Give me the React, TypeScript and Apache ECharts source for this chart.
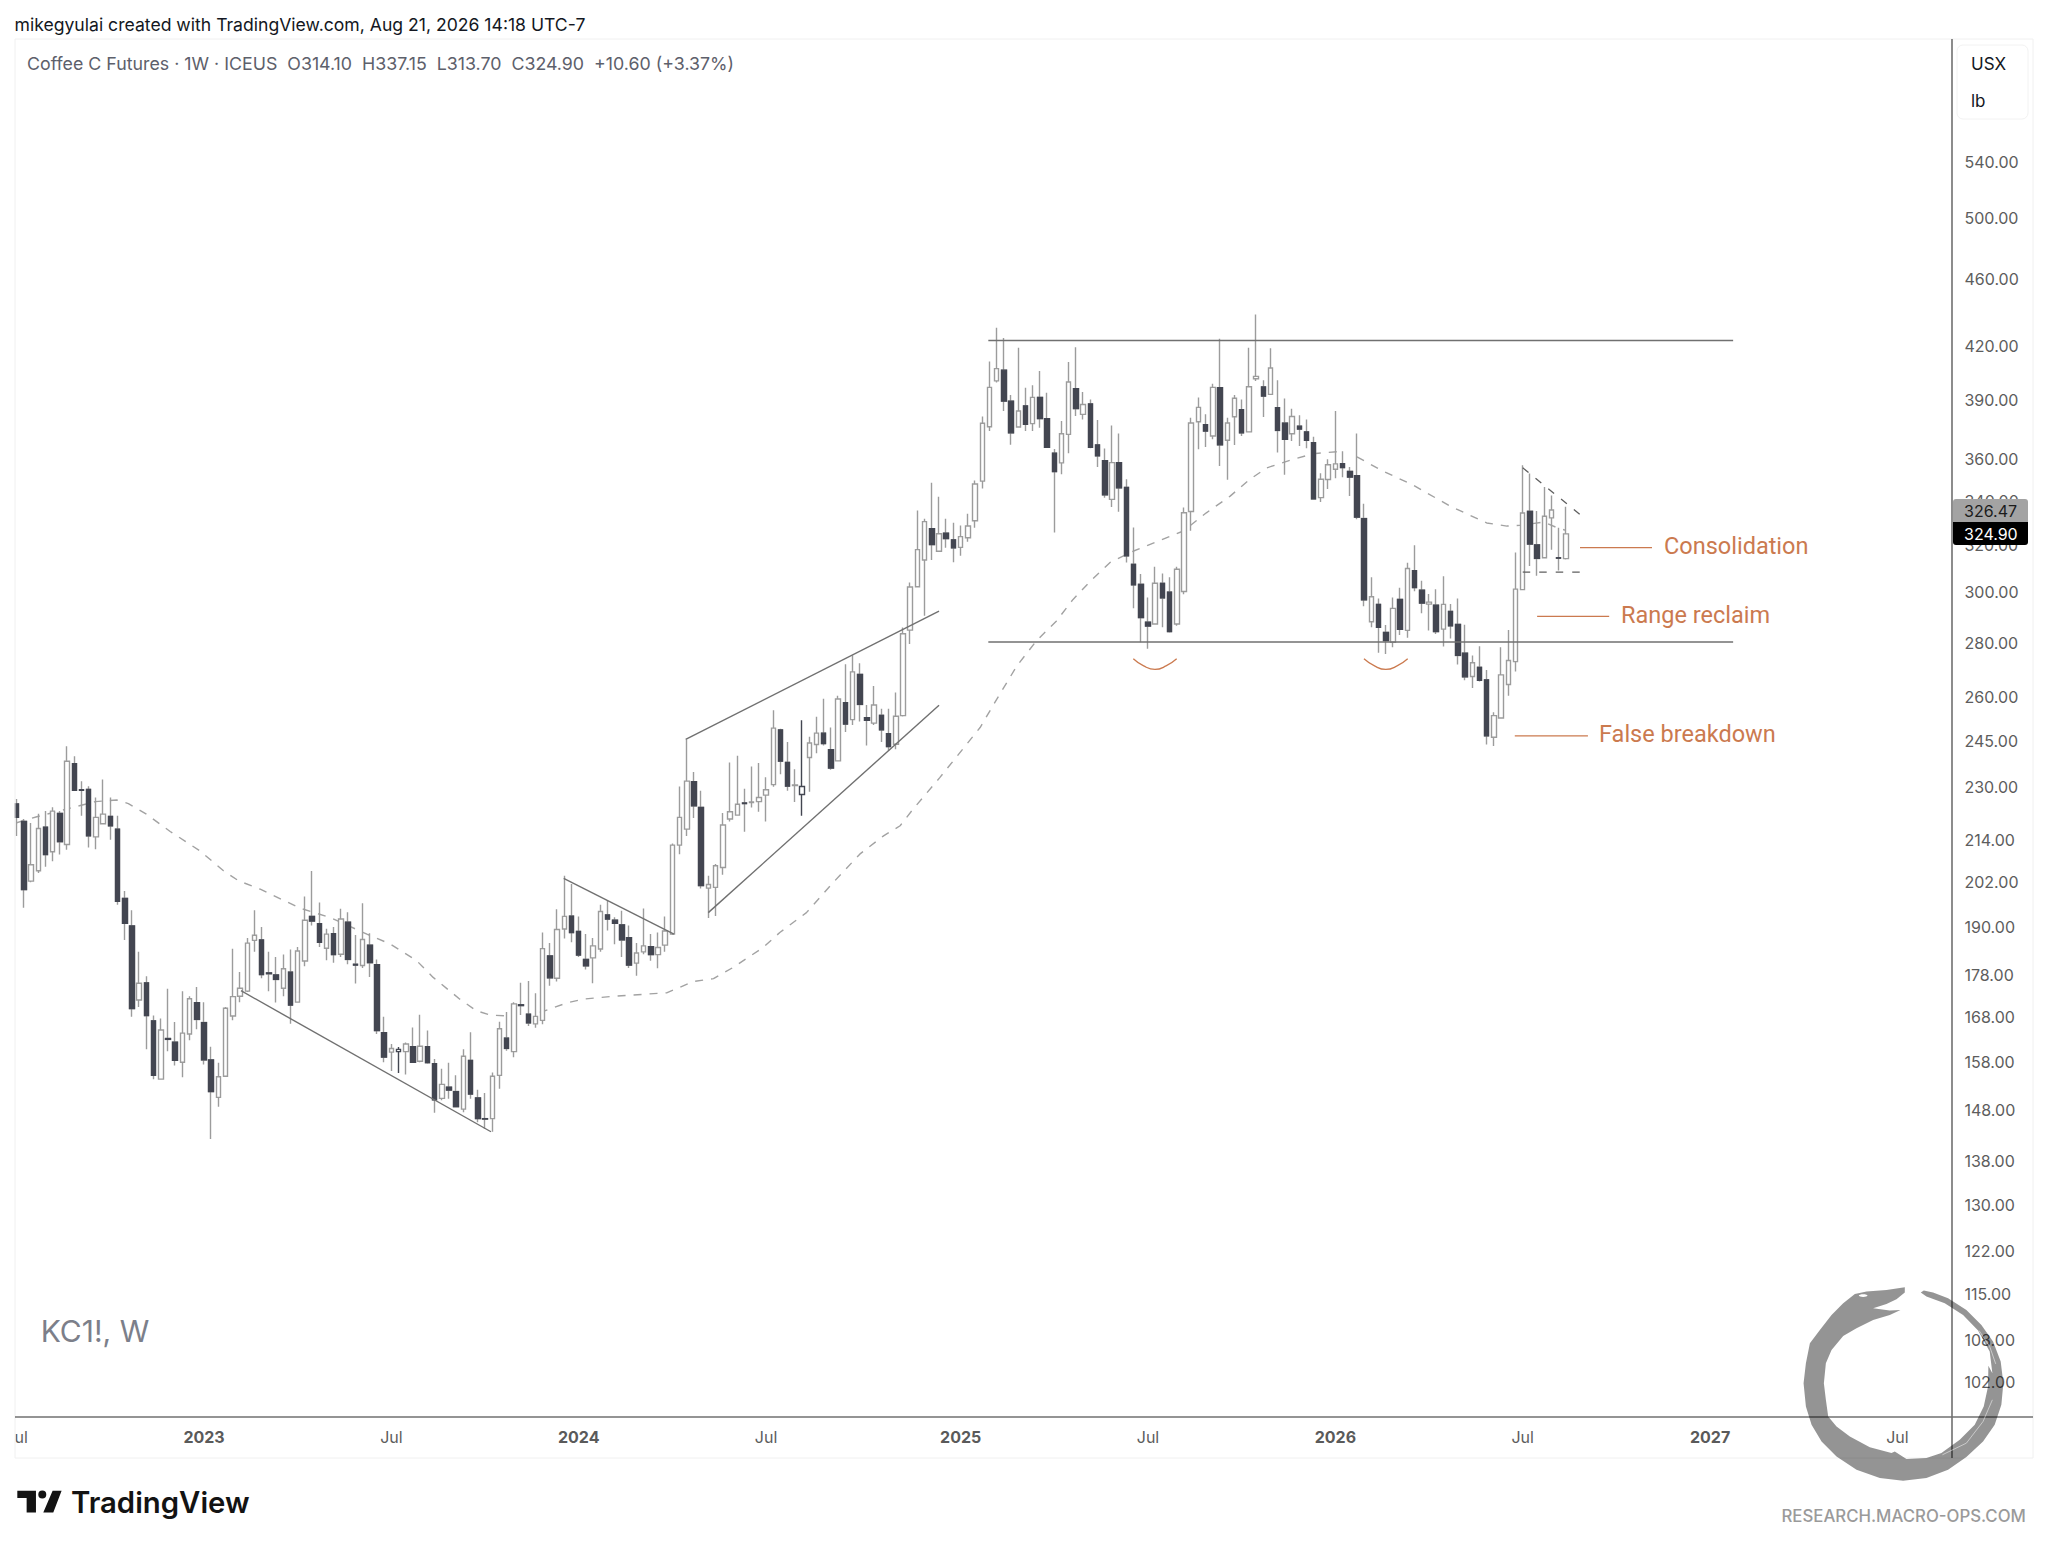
import React, { useEffect, useRef } from "react";
import * as echarts from "echarts";

// Weekly bars as [open, high, low, close]
const candles2022: number[][] = [
[224.7,226.2,215.1,220.6],[219.4,220.1,195.0,199.9],[202.2,218.9,201.9,206.8],[205.1,221.7,204.5,217.3],[217.7,222.5,206.2,209.7],[210.5,223.7,207.8,222.5],[221.8,222.5,209.7,213.4],[212.6,243.1,211.1,238.2],[237.4,239.8,228.7,228.9],[229.1,231.8,221.1,228.9],
[229.2,230.2,211.7,215.1],[214.8,226.7,211.2,220.6],[218.7,232.3,218.5,221.6],[220.9,226.7,214.0,218.1],[217.1,221.1,195.8,196.7],[197.5,199.5,186.6,190.9],[190.2,194.3,168.0,169.9],[171.9,183.6,170.3,175.9],[176.0,177.6,160.7,168.3],[167.1,168.3,154.3,155.1],
[154.3,167.6,154.3,165.0],[163.1,174.6,160.3,162.9],[162.3,166.8,157.2,158.3],[157.9,174.0,154.7,164.3],[164.1,172.8,162.7,172.2],[171.3,175.0,165.2,167.4]];
const candles2023: number[][] = [
[166.7,171.4,157.4,158.4],[158.4,161.3,142.2,151.7],[150.5,157.8,148.6,154.8],[154.9,170.3,154.8,170.0],[168.2,184.4,167.2,172.7],[172.8,178.6,171.4,174.7],[174.0,187.1,173.8,185.8],[186.5,194.3,183.6,187.8],[186.6,189.9,177.1,178.0],[178.4,183.6,174.0,178.2],
[177.9,182.3,171.3,176.8],[174.7,182.9,172.8,179.4],[178.6,184.2,166.4,170.7],[171.4,184.8,171.3,183.8],[181.3,198.0,180.0,191.7],[192.7,205.0,190.3,191.5],[190.8,196.4,184.8,186.0],[184.5,189.5,181.5,188.1],[188.2,189.9,180.9,182.9],[183.0,194.7,182.3,192.0],
[191.2,193.8,180.5,181.7],[180.5,187.9,175.8,180.3],[180.2,196.2,179.6,186.7],[185.3,188.3,177.4,180.9],[180.4,181.7,164.1,164.9],[164.4,168.0,157.9,159.0],[160.1,161.9,156.0,160.9],[160.2,161.2,155.6,160.7],[160.2,162.2,155.3,161.9],[161.3,165.6,157.8,157.9],
[158.1,168.5,157.9,161.4],[161.3,164.9,157.6,157.8],[157.6,158.6,147.4,150.0],[150.3,156.5,149.9,153.2],[152.6,157.8,150.2,152.0],[151.7,155.1,148.5,148.6],[148.1,160.7,147.5,159.2],[158.3,164.5,150.2,151.2],[150.4,152.1,145.5,146.2],[146.2,151.4,144.2,146.1],
[146.2,155.7,143.6,154.9],[155.1,166.9,152.3,165.3],[163.2,169.1,160.4,160.9],[160.2,171.4,159.0,171.0],[170.8,176.0,168.4,170.6],[168.6,176.4,165.9,166.6],[166.4,173.5,165.5,168.1],[167.2,188.5,166.3,184.4],[182.6,185.8,175.3,177.2],[177.1,194.6,176.3,189.3],
[189.4,203.7,187.0,192.7],[192.8,201.4,186.0,188.5]];
const candles2024: number[][] = [
[188.8,192.7,182.3,182.8],[181.7,188.1,179.2,180.1],[182.1,187.1,175.9,185.1],[184.3,195.8,183.6,194.0],[193.1,197.0,189.0,192.0],[191.7,192.5,185.5,190.9],[190.5,194.2,182.3,186.6],[187.2,190.3,179.6,180.3],[180.8,185.8,177.7,183.3],[183.6,194.8,183.0,185.1],
[184.9,188.1,181.4,182.9],[182.9,188.5,179.5,184.7],[185.3,192.7,183.6,188.9],[188.1,212.9,187.9,212.4],[212.4,230.1,209.8,220.6],[217.1,245.4,215.1,231.8],[231.6,234.7,220.4,224.1],[223.6,228.8,200.2,201.0],[200.3,203.7,192.3,201.3],[200.5,207.0,192.8,206.5],
[206.0,221.9,204.0,218.3],[220.1,237.8,219.4,222.3],[221.3,240.0,221.1,224.6],[225.0,229.4,216.3,224.8],[225.1,236.5,223.6,225.3],[225.4,237.6,222.3,226.7],[227.4,233.0,219.4,229.1],[230.7,255.4,230.0,249.2],[248.6,249.0,234.0,238.2],[237.8,244.5,228.8,230.2],
[230.4,235.6,225.3,230.6],[227.6,251.9,221.1,230.1],[239.4,246.3,228.5,244.2],[243.7,253.1,240.8,247.5],[247.5,259.4,243.4,244.0],[242.0,249.4,235.4,236.0],[238.3,260.5,238.1,259.3],[258.0,271.9,247.9,250.6],[252.1,275.3,250.3,269.1],[268.2,272.3,251.5,257.4],
[252.8,257.2,243.4,251.9],[250.9,264.0,250.3,257.2],[253.6,255.9,244.5,248.6],[247.3,255.9,241.6,243.0],[243.8,261.6,242.1,253.3],[253.5,285.9,253.2,283.5],[284.9,304.0,279.5,302.2],[302.3,335.4,302.0,318.0],[313.5,331.7,290.5,330.4],[327.2,348.4,313.5,320.2],
[317.3,341.8,317.1,325.0],[325.2,331.7,318.8,322.8],[322.3,329.9,312.6,318.8]];
const candles2025: number[][] = [
[319.0,328.7,315.3,323.7],[323.2,334.0,321.4,328.4],[330.8,349.5,327.6,347.8],[349.2,381.4,345.7,377.9],[376.1,411.2,373.9,396.9],[400.4,430.5,399.5,407.2],[406.3,424.6,384.3,389.5],[389.5,392.8,367.0,373.0],[376.0,419.0,375.6,384.3],[387.0,396.7,373.9,377.4],
[377.7,398.0,373.9,391.5],[391.5,405.8,375.6,380.3],[380.3,394.0,365.6,365.7],[362.8,364.8,325.5,353.8],[358.0,379.1,352.5,372.5],[372.2,410.9,362.8,399.8],[396.2,419.3,381.7,385.6],[382.5,394.4,379.9,387.7],[388.0,390.4,365.2,365.7],[366.9,379.6,356.0,361.5],
[359.1,365.1,341.4,342.7],[340.6,376.8,337.1,358.1],[358.1,372.7,334.9,346.0],[346.2,350.1,312.5,315.3],[311.7,327.8,293.5,303.1],[303.3,307.6,280.2,289.8],[288.0,297.9,277.7,286.5],[287.3,310.7,287.0,303.7],[303.7,307.8,286.0,297.7],[300.1,306.2,284.0,284.3],
[287.3,310.6,286.6,309.6],[300.3,336.8,299.2,334.4],[335.0,380.8,326.3,378.0],[378.7,391.5,364.7,386.2],[377.2,382.6,365.9,373.9],[371.4,398.9,369.7,396.9],[396.7,424.1,356.5,366.9],[369.2,380.8,349.8,378.0],[381.3,392.8,366.9,391.0],[385.0,390.4,371.4,373.0],
[373.5,419.0,373.3,397.2],[401.6,438.4,400.4,402.9],[397.1,400.7,381.2,392.2],[393.1,418.6,393.0,407.5],[386.0,400.7,363.1,374.2],[378.0,390.9,352.2,369.7],[372.5,385.5,368.9,381.4],[376.4,382.0,366.4,374.9],[373.5,379.9,365.2,369.2],[368.0,371.0,340.4,340.8],
[341.4,353.0,339.4,350.1],[350.0,359.8,345.4,357.1]];
const candles2026: number[][] = [
[354.9,384.3,350.6,357.5],[357.6,363.7,351.0,355.7],[353.8,356.0,342.2,351.1],[351.8,372.7,331.5,332.4],[331.8,338.6,294.3,296.9],[288.2,306.2,286.0,298.2],[295.1,297.5,276.2,286.0],[284.0,286.9,275.8,280.8],[280.2,297.9,278.3,293.5],[297.1,301.9,283.0,285.2],
[284.8,312.4,281.9,309.9],[309.0,319.9,300.4,301.9],[300.9,304.8,291.5,295.6],[295.2,299.3,284.7,296.0],[294.8,301.3,283.4,284.3],[285.3,306.6,278.6,295.1],[292.3,295.2,281.7,286.6],[287.1,297.5,271.8,275.2],[276.1,287.0,266.0,267.3],[267.4,275.2,263.2,272.5],
[270.8,278.7,265.6,266.0],[266.2,269.8,243.7,246.6],[246.1,254.7,243.2,253.5],[252.7,278.3,252.5,268.0],[264.5,284.9,260.5,273.3],[272.9,316.8,269.2,301.3],[301.1,356.9,300.9,334.3],[335.1,352.9,311.0,320.4],[320.1,335.2,306.9,314.2],[314.5,346.4,314.3,332.8],
[332.1,342.4,317.9,335.7],[314.5,327.6,309.1,314.3],[314.1,337.15,313.7,324.9]];
const darkOutlineBars = [53, 109];

// Moving average as [bar position, price]
const movingAverage1: number[][] = [[0,219.0],[2.8,220.8],[6.9,223.1],[10.9,225.4],[13.9,225.9],[15.5,224.8],[18,221.6],[21.3,216.4],[25.4,210.8],[28.7,205.1],[30.8,202.3],[33.8,200],[39.3,194.9],[43.5,192.4],[48.6,188.1],[51.8,185.6],[55.5,181.4],[57.8,177.3],[61.5,172.1],[63.8,169.4],[65.7,168.4],[68.5,168.2]];
const movingAverage2: number[][] = [[72.6,169],[76.3,171.2],[78.6,172.1],[82.8,172.8],[90.2,173.6],[92,174.9],[93.9,176.3],[96.7,177],[99.4,179.7],[103.6,184.7],[105.9,188.5],[109.6,193.7],[113.3,201.8],[117,209.8],[120.3,215.1],[122.6,218.1],[124.4,223.1],[128.1,232.9],[133.7,249.4],[136,259.2],[138.8,271.3],[141.5,280.7],[144.3,288.5],[146.6,297.1],[149,304.6],[151.7,312.4],[155,317.4],[161.9,326.2],[165.1,334.4],[168.4,342.1],[171.1,350],[173.5,355.6],[176.7,359.3],[179.9,362.5],[183.2,363.5]];
const movingAverage3: number[][] = [[186,361],[189.2,354.7],[193.8,347.3],[198.9,337.5],[204,329.8],[206.8,328.4],[208.6,328.7],[211.9,330.2],[213.9,327.5],[215,326.47]];

// Drawn trend lines as [bar position, price]
const flagDownLow = [[31.13,174.1],[65.82,143.6]];
const flagDownHigh = [[75.91,203.0],[91.22,188.1]];
const channelUpper = [[92.84,245.4],[128.0,292.4]];
const channelLower = [[95.98,193.7],[128.0,257.1]];
const rangeTop = [[134.84,423.1],[238.2,423.1]];
const rangeBottom = [[134.84,280.3],[238.2,280.3]];
const pennantTop = [[209.0,355.6],[216.95,333.6]];
const pennantBottom = [[209.0,308.4],[216.95,308.4]];
const noteConsolidation = [[216.95,318.9],[226.94,318.9]];
const noteReclaim = [[211.0,290.3],[221.0,290.3]];
const noteBreakdown = [[207.9,246.6],[218.05,246.6]];
const arcFirst = [[154.96,274.0],[156.4,271.3],[157.97,270.0],[159.5,271.3],[160.98,274.0]];
const arcSecond = [[186.97,274.0],[188.5,271.2],[190.0,270.0],[191.5,271.2],[193.04,274.0]];

const priceTicks = [540,500,460,420,390,360,340,320,300,280,260,245,230,214,202,190,178,168,158,148,138,130,122,115,108,102];
const timeTickBars = [0,26,52,78,104,131,157,183,209,235,261];
const timeTickLabels = ["Jul","2023","Jul","2024","Jul","2025","Jul","2026","Jul","2027","Jul"];
const headerCredit = "mikegyulai created with TradingView.com, Aug 21, 2026 14:18 UTC-7";
const headerSymbol = "Coffee C Futures · 1W · ICEUS  O314.10  H337.15  L313.70  C324.90  +10.60 (+3.37%)";
const lastMaPrice = "326.47";
const lastClosePrice = "324.90";

const FONT = "Inter, 'Noto Sans', sans-serif";
const NOTE_FONT = "Roboto, sans-serif";
const DARK = "#434651";
const GREY = "#9c9c9c";
const LINE = "#707070";
const ORANGE = "#cb7a4f";

echarts.graphic.registerShape(
  "ouroboros",
  echarts.graphic.extendPath(
    "M615,142 L560,150 L500,155 L465,162 L430,190 L395,225 L360,270 L330,310 L318,370 L311,430 L318,500 L335,555 L365,605 L410,650 L470,690 L540,715 L610,723 L680,715 L745,690 L800,652 L850,605 L885,555 L905,495 L911,430 L903,365 L880,305 L845,255 L800,210 L745,175 L700,158 L672,152 L663,158 L680,170 L735,190 L790,225 L835,272 L870,335 L878,400 L866,378 L865,440 L852,500 L825,555 L780,600 L725,640 L680,655 L620,658 L600,645 L585,635 L575,640 L510,622 L450,590 L410,560 L385,530 L378,480 L372,430 L378,370 L395,330 L430,288 L470,265 L520,240 L570,225 L602,210 L570,212 L520,205 L560,192 L590,178 L615,158 Z",
    {}
  )
);
echarts.graphic.registerShape(
  "tvmark",
  echarts.graphic.extendPath(
    "M52,633 L108,633 L108,698 L80,698 L80,655 L52,655 Z M158,633 L185,633 L160,698 L130,698 Z M139,644 A12,12 0 1 1 115,644 A12,12 0 1 1 139,644 Z",
    {}
  )
);

const allCandles = [...candles2022, ...candles2023, ...candles2024, ...candles2025, ...candles2026];
const BAR_SLOTS = 269;

function makeCategories(): string[] {
  const out: string[] = [];
  const start = Date.UTC(2022, 6, 4);
  for (let i = 0; i < BAR_SLOTS; i++) {
    out.push(new Date(start + i * 7 * 86400000).toISOString().slice(0, 10));
  }
  return out;
}

function straight(name: string, data: number[][], color: string, width: number, z: number, dash?: number[], smooth?: boolean) {
  return {
    name,
    type: "line",
    xAxisIndex: 1,
    yAxisIndex: 0,
    data,
    symbol: "none",
    silent: true,
    smooth: smooth ? 0.5 : false,
    z,
    lineStyle: { color, width, type: dash || "solid" },
  };
}

function text(x: number, y: number, t: string, size: number, fill: string, extra: any = {}) {
  return {
    type: "text",
    x,
    y,
    z: 100,
    silent: true,
    style: { text: t, fontSize: size, fontFamily: FONT, fill, verticalAlign: "middle", align: "left", ...extra },
  };
}

function buildOption() {
  const categories = makeCategories();
  const hollow = allCandles.map(([o, h, l, c], i) => {
    const value = [o, c, l, h];
    return darkOutlineBars.includes(i)
      ? { value, itemStyle: { borderColor: DARK, borderColor0: DARK } }
      : value;
  });
  const bodies = allCandles.map(([o, , , c]) =>
    c < o ? [o, c, c, o] : ["-", "-", "-", "-"]
  );
  const P = 1 / 3;
  return {
    animation: false,
    backgroundColor: "#ffffff",
    grid: { left: 13.07, top: 39, width: 1938.4, height: 1377.3, containLabel: false },
    xAxis: [
      {
        type: "category",
        data: categories,
        axisLine: { show: false },
        axisTick: { show: false },
        splitLine: { show: false },
        axisLabel: {
          interval: (i: number) => timeTickBars.includes(i),
          margin: 12.5,
          color: "#5d5d5d",
          fontSize: 16,
          fontFamily: FONT,
          hideOverlap: false,
          formatter: (_v: string, i: number) => {
            const s = timeTickLabels[timeTickBars.indexOf(i)] || "";
            return /^\d/.test(s) ? `{y|${s}}` : s;
          },
          rich: { y: { fontWeight: 700, fontSize: 16, color: "#5a5a5a", fontFamily: FONT } },
        },
      },
      { type: "value", min: -0.5, max: BAR_SLOTS - 0.5, show: false, splitLine: { show: false } },
    ],
    yAxis: {
      type: "log",
      position: "right",
      logBase: 10,
      min: 97.36,
      max: 638.7,
      axisLine: { show: false },
      axisTick: { show: false },
      splitLine: { show: false },
      minorTick: { show: false },
      minorSplitLine: { show: false },
      axisLabel: {
        customValues: priceTicks,
        margin: 13,
        color: "#5d5d5d",
        fontSize: 16,
        fontFamily: FONT,
        formatter: (v: number) => Number(v).toFixed(2),
      },
    },
    series: [
      straight("MA a", movingAverage1, "#a2a2a2", 1.4, 1, [8, 8]),
      straight("MA b", movingAverage2, "#a2a2a2", 1.4, 1, [8, 8]),
      straight("MA c", movingAverage3, "#a2a2a2", 1.4, 1, [8, 8]),
      {
        name: "KC1!",
        type: "candlestick",
        xAxisIndex: 0,
        yAxisIndex: 0,
        data: hollow,
        barWidth: 5,
        z: 2,
        silent: true,
        itemStyle: { color: "#ffffff", color0: "#ffffff", borderColor: GREY, borderColor0: GREY, borderWidth: 1.4 },
      },
      {
        name: "KC1! down bodies",
        type: "candlestick",
        xAxisIndex: 0,
        yAxisIndex: 0,
        data: bodies,
        barWidth: 5,
        z: 3,
        silent: true,
        itemStyle: { color: DARK, color0: DARK, borderColor: DARK, borderColor0: DARK, borderWidth: 1.3 },
      },
      straight("Trend a", flagDownLow, LINE, 1.4, 4),
      straight("Trend b", flagDownHigh, LINE, 1.4, 4),
      straight("Channel upper", channelUpper, LINE, 1.4, 4),
      straight("Channel lower", channelLower, LINE, 1.4, 4),
      straight("Range top", rangeTop, LINE, 1.6, 4),
      straight("Range bottom", rangeBottom, LINE, 1.6, 4),
      straight("Pennant top", pennantTop, "#5f5f5f", 1.3, 4, [7.5, 9]),
      straight("Pennant bottom", pennantBottom, "#5f5f5f", 1.3, 4, [7.5, 9]),
      straight("Note a", noteConsolidation, ORANGE, 1.3, 4),
      straight("Note b", noteReclaim, ORANGE, 1.3, 4),
      straight("Note c", noteBreakdown, ORANGE, 1.3, 4),
      straight("Arc a", arcFirst, ORANGE, 1.3, 4, undefined, true),
      straight("Arc b", arcSecond, ORANGE, 1.3, 4, undefined, true),
    ],
    graphic: [
      { type: "rect", z: 90, silent: true, shape: { x: 0, y: 40, width: 14.6, height: 1418 }, style: { fill: "#ffffff" } },
      { type: "rect", z: 91, silent: true, shape: { x: 15, y: 39, width: 2018, height: 1419 }, style: { fill: "none", stroke: "#f0f0f0", lineWidth: 1 } },
      { type: "line", z: 92, silent: true, shape: { x1: 15, y1: 1417, x2: 2033, y2: 1417 }, style: { stroke: LINE, lineWidth: 1.6 } },
      { type: "line", z: 92, silent: true, shape: { x1: 1952, y1: 39, x2: 1952, y2: 1458 }, style: { stroke: LINE, lineWidth: 1.6 } },
      { type: "rect", z: 95, silent: true, shape: { x: 1953, y: 499, width: 75, height: 23, r: [3, 3, 0, 0] }, style: { fill: "#a3a3a3" } },
      { type: "rect", z: 95, silent: true, shape: { x: 1953, y: 522, width: 75, height: 23, r: [0, 0, 3, 3] }, style: { fill: "#000000" } },
      text(1964, 511, lastMaPrice, 16, "#1c1c1c"),
      text(1964, 534, lastClosePrice, 16, "#ffffff"),
      { type: "rect", z: 95, silent: true, shape: { x: 1957, y: 45, width: 71, height: 74, r: 6 }, style: { fill: "#ffffff", stroke: "#f2f2f2", lineWidth: 1 } },
      text(1971, 64, "USX", 17, "#131722"),
      text(1971, 101, "lb", 17, "#131722"),
      text(14.5, 24, headerCredit, 17.6, "#131722"),
      text(27, 63, headerSymbol, 17.8, "#5d606b"),
      text(40.7, 1331, "KC1!, W", 30, "#7c7f8a"),
      text(1621, 615, "Range reclaim", 23.5, ORANGE, { fontFamily: NOTE_FONT }),
      text(1664, 546, "Consolidation", 23.5, ORANGE, { fontFamily: NOTE_FONT }),
      text(1599, 734, "False breakdown", 23.5, ORANGE, { fontFamily: NOTE_FONT }),
      text(71, 1502, "TradingView", 29.3, "#131313", { fontWeight: 600 }),
      { type: "tvmark", x: 0, y: 1280, z: 100, silent: true, scaleX: P, scaleY: P, style: { fill: "#131313" } },
      { type: "ouroboros", x: 1700, y: 1240, z: 98, silent: true, scaleX: P, scaleY: P, style: { fill: "rgba(0,0,0,0.42)" } },
      { type: "polyline", x: 1700, y: 1240, z: 99, silent: true, scaleX: P, scaleY: P, shape: { points: [[838,272],[870,320],[888,372]] }, style: { stroke: "#ffffff", lineWidth: 1.5, fill: "none" } },
      { type: "polyline", x: 1700, y: 1240, z: 99, silent: true, scaleX: P, scaleY: P, shape: { points: [[728,645],[800,610],[850,545],[878,480]] }, style: { stroke: "#ffffff", lineWidth: 1.5, fill: "none" } },
      { type: "ellipse", x: 1700, y: 1240, z: 99, silent: true, scaleX: P, scaleY: P, shape: { cx: 490, cy: 167, rx: 13, ry: 4 }, style: { fill: "#ffffff" } },
      text(1781.5, 1515.5, "RESEARCH.MACRO-OPS.COM", 16.8, "#9a9a9a", { fontWeight: 500 }),
    ],
  };
}

export default function App() {
  const ref = useRef<HTMLDivElement>(null);
  useEffect(() => {
    document.body.style.margin = "0";
    const chart = echarts.init(ref.current!, undefined, { renderer: "svg" });
    chart.setOption(buildOption() as any);
    return () => chart.dispose();
  }, []);
  return <div ref={ref} style={{ width: 2048, height: 1547, background: "#fff" }} />;
}
